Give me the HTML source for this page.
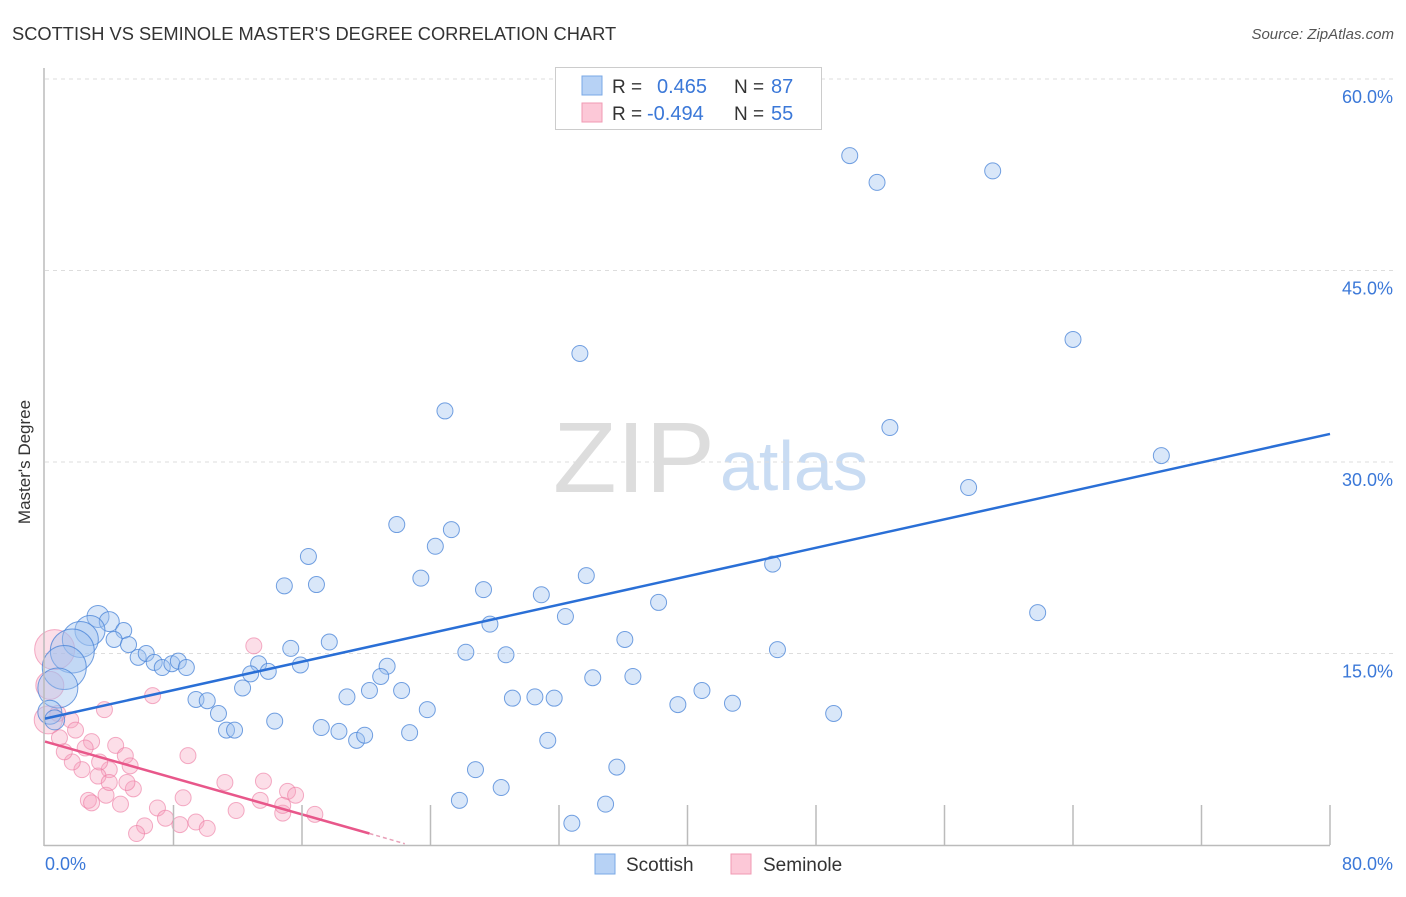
<!DOCTYPE html>
<html><head><meta charset="utf-8"><style>
body{margin:0;background:#fff;font-family:"Liberation Sans",sans-serif}
svg text{font-family:"Liberation Sans",sans-serif}
</style></head><body>
<svg id="chart" width="1406" height="892" xmlns="http://www.w3.org/2000/svg">
<text x="12" y="40" font-size="18.3" fill="#333">SCOTTISH VS SEMINOLE MASTER'S DEGREE CORRELATION CHART</text>
<text x="1394" y="39" font-size="15" fill="#555" font-style="italic" text-anchor="end">Source: ZipAtlas.com</text>
<text x="24" y="456" font-size="17" fill="#333" transform="rotate(-90 30 456)" text-anchor="middle">Master's Degree</text>
<g>
<text x="553" y="492" font-size="100" fill="#ddd" font-family="Liberation Serif,serif" textLength="162" lengthAdjust="spacingAndGlyphs">ZIP</text>
<text x="720" y="490" font-size="70" fill="#c9dcf3">atlas</text>
</g>
<g id="grid"></g><g id="marks"></g><g id="lines"></g>
<line x1="44" y1="68" x2="44" y2="846" stroke="#bbb" stroke-width="1.5"/>
<line x1="44" y1="845.5" x2="1330" y2="845.5" stroke="#bbb" stroke-width="1.5"/>
<g id="xticks"></g>
<text x="45" y="870" font-size="18" fill="#3b78d8">0.0%</text>
<text x="1393" y="870" font-size="18" fill="#3b78d8" text-anchor="end">80.0%</text>
<g>
<rect x="555.5" y="67.5" width="266" height="62" fill="#fff" stroke="#ccc"/>
<rect x="582" y="76" width="20" height="19" fill="#b7d2f5" stroke="#7aa8e6"/>
<rect x="582" y="103" width="20" height="19" fill="#fcc8d7" stroke="#f09ab3"/>
<text x="612" y="93" font-size="19" fill="#333">R =</text>
<text x="657" y="93" font-size="20" fill="#3b78d8">0.465</text>
<text x="734" y="93" font-size="19" fill="#333">N =</text>
<text x="771" y="93" font-size="20" fill="#3b78d8">87</text>
<text x="612" y="120" font-size="19" fill="#333">R =</text>
<text x="647" y="120" font-size="20" fill="#3b78d8">-0.494</text>
<text x="734" y="120" font-size="19" fill="#333">N =</text>
<text x="771" y="120" font-size="20" fill="#3b78d8">55</text>
</g>
<g>
<rect x="595" y="854" width="20" height="20" fill="#b7d2f5" stroke="#7aa8e6"/>
<text x="626" y="871" font-size="19" fill="#333">Scottish</text>
<rect x="731" y="854" width="20" height="20" fill="#fcc8d7" stroke="#f09ab3"/>
<text x="763" y="871" font-size="19" fill="#333">Seminole</text>
</g>
</svg>
<script>
const yTicks=[15,30,45,60];
const yTickLabels=["15.0%","30.0%","45.0%","60.0%"];
const xTicks=[0,8,16,24,32,40,48,56,64,72,80];
const scottishX=[50.1,51.8,59.0,64.0,33.3,24.9,52.6,69.5,57.5,21.9,25.3,24.3,16.4,23.4,14.9,16.9,33.7,45.3,27.3,30.9,38.2,61.8,32.4,27.7,36.1,17.7,15.3,26.2,28.7,45.6,15.9,21.3,13.3,13.9,12.8,20.9,34.1,36.6,12.3,18.8,20.2,22.2,29.1,30.5,31.7,40.9,39.4,42.8,49.1,14.3,23.8,9.4,10.1,10.8,17.2,18.3,11.3,11.8,22.7,19.4,19.9,31.3,26.8,35.6,28.4,25.8,34.9,32.8,3.3,4.0,4.9,4.3,5.2,2.8,2.2,1.7,1.2,0.8,5.8,6.3,6.8,7.3,7.9,8.3,8.8,0.3,0.6];
const scottishY=[54.0,51.9,52.8,39.6,38.5,34.0,32.7,30.5,28.0,25.1,24.7,23.4,22.6,20.9,20.3,20.4,21.1,22.0,20.0,19.6,19.0,18.2,17.9,17.3,16.1,15.9,15.4,15.1,14.9,15.3,14.1,14.0,14.2,13.6,13.4,13.2,13.1,13.2,12.3,11.6,12.1,12.1,11.5,11.6,11.5,12.1,11.0,11.1,10.3,9.7,10.6,11.4,11.3,10.3,9.2,8.9,9.0,9.0,8.8,8.2,8.6,8.2,5.9,6.1,4.5,3.5,3.2,1.7,17.9,17.5,16.8,16.1,15.7,16.8,16.1,15.2,13.9,12.3,14.7,15.0,14.3,13.9,14.2,14.4,13.9,10.4,9.8];
const scottishR=[8,8,8,8,8,8,8,8,8,8,8,8,8,8,8,8,8,8,8,8,8,8,8,8,8,8,8,8,8,8,8,8,8,8,8,8,8,8,8,8,8,8,8,8,8,8,8,8,8,8,8,8,8,8,8,8,8,8,8,8,8,8,8,8,8,8,8,8,11,10,8,8,8,15,18,22,22,20,8,8,8,8,8,8,8,12,10];
const seminoleX=[13.0,6.7,3.7,0.8,1.6,1.9,2.9,0.9,2.5,0.2,4.4,5.0,5.3,4.0,3.3,3.4,2.3,2.7,2.9,3.8,4.7,5.5,8.9,11.2,13.6,7.0,7.5,6.2,8.6,8.4,9.4,10.1,11.9,13.4,14.8,15.1,15.6,16.8,14.8,5.7,0.6,0.3,1.7,1.2,4.0,5.1];
const seminoleY=[15.6,11.7,10.6,10.3,9.8,9.0,8.1,8.4,7.6,9.8,7.8,7.0,6.2,5.9,5.4,6.5,5.9,3.5,3.3,3.9,3.2,4.4,7.0,4.9,5.0,2.9,2.1,1.5,3.7,1.6,1.8,1.3,2.7,3.5,2.5,4.2,3.9,2.4,3.1,0.9,15.3,12.5,6.5,7.3,4.9,4.9];
const seminoleR=[8,8,8,8,8,8,8,8,8,14,8,8,8,8,8,8,8,8,8,8,8,8,8,8,8,8,8,8,8,8,8,8,8,8,8,8,8,8,8,8,20,14,8,8,8,8];
const blueTrend=[[0,9.9],[80,32.2]];
const pinkTrend=[[0,8.1],[20.2,0.9]];
const pinkDash=[[20.2,0.9],[22.4,0.1]];

const NS="http://www.w3.org/2000/svg";
const xs=v=>45+v/80*1285;
const ys=v=>845-v/60*766;
function mk(t,a,p){const e=document.createElementNS(NS,t);for(const k in a)e.setAttribute(k,a[k]);p.appendChild(e);return e;}
const grid=document.getElementById('grid');
yTicks.forEach((t,i)=>{
 const l=mk('line',{x1:45,x2:1394,y1:ys(t),y2:ys(t),stroke:'#ddd','stroke-dasharray':'4 4'},grid);
 
 
 const tx=mk('text',{x:1393,y:ys(t)+24,'font-size':18,fill:'#3b78d8','text-anchor':'end'},grid);
 tx.textContent=yTickLabels[i];
 
 
});
const xt=document.getElementById('xticks');
xTicks.forEach(t=>{
 if(t===0)return;
 const l=mk('line',{x1:xs(t),x2:xs(t),y1:805,y2:845,stroke:'#bbb','stroke-width':1.5},xt);
 
 
});
const marks=document.getElementById('marks');
seminoleX.forEach((v,i)=>{
 const c=mk('circle',{cx:xs(v),cy:ys(seminoleY[i]),r:seminoleR[i],fill:'rgba(247,160,188,0.35)',stroke:'rgba(236,120,160,0.6)','stroke-width':1},marks);
 
 
});
scottishX.forEach((v,i)=>{
 const c=mk('circle',{cx:xs(v),cy:ys(scottishY[i]),r:scottishR[i],fill:'rgba(160,195,240,0.4)',stroke:'rgba(70,130,215,0.75)','stroke-width':1},marks);
 
 
});
const lines=document.getElementById('lines');
const bl=mk('line',{x1:xs(blueTrend[0][0]),y1:ys(blueTrend[0][1]),x2:xs(blueTrend[1][0]),y2:ys(blueTrend[1][1]),stroke:'#2a6fd6','stroke-width':2.5},lines);


const pl=mk('line',{x1:xs(pinkTrend[0][0]),y1:ys(pinkTrend[0][1]),x2:xs(pinkTrend[1][0]),y2:ys(pinkTrend[1][1]),stroke:'#e8578a','stroke-width':2.5},lines);


const pd=mk('line',{x1:xs(pinkDash[0][0]),y1:ys(pinkDash[0][1]),x2:xs(pinkDash[1][0]),y2:ys(pinkDash[1][1]),stroke:'#e8a0b8','stroke-width':1.5,'stroke-dasharray':'4 3'},lines);


</script>
</body></html>
